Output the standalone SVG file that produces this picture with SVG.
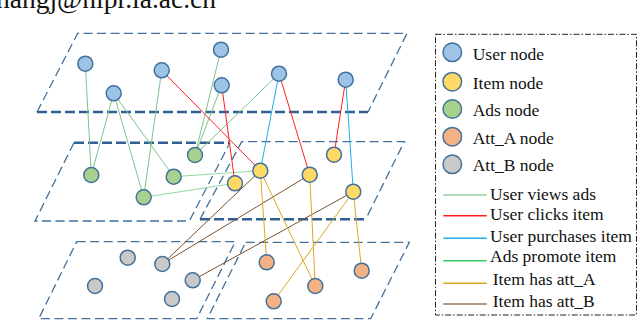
<svg xmlns="http://www.w3.org/2000/svg" width="640" height="321" viewBox="0 0 640 321">
<style>
.pl{fill:none;stroke:#41719c;stroke-width:1.3;stroke-dasharray:9 4.5}
.pk{fill:none;stroke:#2f5f94;stroke-width:2.6;stroke-dasharray:10 4}
.n{stroke:#41719c;stroke-width:1.5}
.u{fill:#9dc3e6}.i{fill:#ffd966}.a{fill:#a9d18e}.o{fill:#f4b183}.g{fill:#c9c9c9}
.e{fill:none;stroke-width:1}
.ev{stroke:#7cc48c}.ec{stroke:#ff2020}.ep{stroke:#1ab0ee}.ea{stroke:#8fdaa2}.eA{stroke:#dca820}.eB{stroke:#7a5230}
.t{font-family:"Liberation Serif","Times New Roman",serif;font-size:17.5px;fill:#111}
</style>
<text x="216" y="8" text-anchor="end" style="font-family:'Liberation Serif',serif;font-size:27.5px;fill:#111">hangj@nlpr.ia.ac.cn</text>
<g id="planes">
<path class="pl" d="M37,112 L77.7,33.3 L407,33.3 L368,112"/>
<path class="pk" d="M37,112 L368,112"/>
<path class="pl" d="M74,142.7 L35,221 L189.3,221 L230,142.7"/>
<path class="pk" d="M74,142.7 L230,142.7"/>
<path class="pl" d="M200,219.3 L241.7,141.7 L404.3,141.7 L365.7,219.3"/>
<path class="pk" d="M200,219.3 L365.7,219.3"/>
<path class="pl" d="M76.7,241.7 L235.3,241.7 L196.7,318.7 L38.7,318.7 Z"/>
<path class="pl" d="M245.7,242.3 L409.3,242.3 L370.7,318.7 L207.3,318.7 Z"/>
</g>
<g id="connectors" class="e">
<line class="ev" x1="85.3" y1="63.7" x2="91.3" y2="175"/>
<line class="ev" x1="113.7" y1="93.3" x2="91.3" y2="175"/>
<line class="ev" x1="113.7" y1="93.3" x2="143.7" y2="197.3"/>
<line class="ev" x1="113.7" y1="93.3" x2="173.7" y2="176.7"/>
<line class="ev" x1="161.7" y1="70.3" x2="143.7" y2="197.3"/>
<line class="ev" x1="221" y1="49.7" x2="195" y2="155"/>
<line class="ev" x1="221.7" y1="85.3" x2="195" y2="155"/>
<line class="ev" x1="279" y1="73.7" x2="195" y2="155"/>
<line class="ea" x1="173.7" y1="176.7" x2="260.3" y2="170.7"/>
<line class="ea" x1="143.7" y1="197.3" x2="235" y2="183.3"/>
<line class="ec" x1="161.7" y1="70.3" x2="260.3" y2="170.7"/>
<line class="ec" x1="221.7" y1="85.3" x2="235" y2="183.3"/>
<line class="ec" x1="279" y1="73.7" x2="309.7" y2="174.7"/>
<line class="ec" x1="345.7" y1="79.7" x2="334" y2="154.7"/>
<line class="ep" x1="279" y1="73.7" x2="260.3" y2="170.7"/>
<line class="ep" x1="345.7" y1="79.7" x2="353.3" y2="191.7"/>
<line class="eB" x1="260.3" y1="170.7" x2="162.3" y2="264"/>
<line class="eB" x1="309.7" y1="174.7" x2="162.3" y2="264"/>
<line class="eB" x1="353.3" y1="191.7" x2="192.7" y2="280.3"/>
<line class="eA" x1="260.3" y1="170.7" x2="266.7" y2="262.3"/>
<line class="eA" x1="260.3" y1="170.7" x2="315.3" y2="286"/>
<line class="eA" x1="309.7" y1="174.7" x2="315.3" y2="286"/>
<line class="eA" x1="353.3" y1="191.7" x2="273.7" y2="301.3"/>
<line class="eA" x1="353.3" y1="191.7" x2="361.7" y2="270.7"/>
</g>
<g id="user-nodes" class="n u">
<circle id="u1" cx="85.3" cy="63.7" r="7.5"/>
<circle id="u2" cx="113.7" cy="93.3" r="7.5"/>
<circle id="u3" cx="161.7" cy="70.3" r="7.5"/>
<circle id="u4" cx="221" cy="49.7" r="7.5"/>
<circle id="u5" cx="221.7" cy="85.3" r="7.5"/>
<circle id="u6" cx="279" cy="73.7" r="7.5"/>
<circle id="u7" cx="345.7" cy="79.7" r="7.5"/>
</g>
<g id="ads-nodes" class="n a">
<circle id="a1" cx="91.3" cy="175" r="7.5"/>
<circle id="a2" cx="143.7" cy="197.3" r="7.5"/>
<circle id="a3" cx="173.7" cy="176.7" r="7.5"/>
<circle id="a4" cx="195" cy="155" r="7.5"/>
</g>
<g id="item-nodes" class="n i">
<circle id="i1" cx="235" cy="183.3" r="7.5"/>
<circle id="i2" cx="260.3" cy="170.7" r="7.5"/>
<circle id="i3" cx="309.7" cy="174.7" r="7.5"/>
<circle id="i4" cx="334" cy="154.7" r="7.5"/>
<circle id="i5" cx="353.3" cy="191.7" r="7.5"/>
</g>
<g id="attb-nodes" class="n g">
<circle id="g1" cx="127.7" cy="257.7" r="7.5"/>
<circle id="g2" cx="162.3" cy="264" r="7.5"/>
<circle id="g3" cx="95" cy="286" r="7.5"/>
<circle id="g4" cx="192.7" cy="280.3" r="7.5"/>
<circle id="g5" cx="172" cy="299" r="7.5"/>
</g>
<g id="atta-nodes" class="n o">
<circle id="o1" cx="266.7" cy="262.3" r="7.5"/>
<circle id="o2" cx="361.7" cy="270.7" r="7.5"/>
<circle id="o3" cx="315.3" cy="286" r="7.5"/>
<circle id="o4" cx="273.7" cy="301.3" r="7.5"/>
</g>
<g id="legend">
<rect x="435.5" y="34.3" width="201" height="280.7" fill="none" stroke="#222" stroke-width="1" stroke-dasharray="6 2 1.5 2"/>
<circle class="n u" cx="452.3" cy="52.3" r="9.3"/>
<circle class="n i" cx="452.3" cy="81.7" r="9.3"/>
<circle class="n a" cx="452.3" cy="109" r="9.3"/>
<circle class="n o" cx="452.3" cy="136.7" r="9.3"/>
<circle class="n g" cx="452.3" cy="164.3" r="9.3"/>
<text class="t" x="472.7" y="59.5">User node</text>
<text class="t" x="472.7" y="88.5">Item node</text>
<text class="t" x="472.7" y="116">Ads node</text>
<text class="t" x="472.7" y="143.5">Att_A node</text>
<text class="t" x="472.7" y="171">Att_B node</text>
<line stroke="#8fcf9f" stroke-width="1.5" x1="443.3" y1="195" x2="486.7" y2="195"/>
<line stroke="#ff2020" stroke-width="1.5" x1="443.3" y1="215.7" x2="486.7" y2="215.7"/>
<line stroke="#1ab0ee" stroke-width="1.5" x1="443.3" y1="238.3" x2="486.7" y2="238.3"/>
<line stroke="#33cc66" stroke-width="1.5" x1="443.3" y1="260.7" x2="486.7" y2="260.7"/>
<line stroke="#dca820" stroke-width="1.5" x1="443.3" y1="283.3" x2="486.7" y2="283.3"/>
<line stroke="#9c7a5a" stroke-width="1.5" x1="443.3" y1="304" x2="486.7" y2="304"/>
<text class="t" x="490" y="199.5">User views ads</text>
<text class="t" x="490" y="220">User clicks item</text>
<text class="t" x="490" y="241.7">User purchases item</text>
<text class="t" x="490" y="262.3">Ads promote item</text>
<text class="t" x="492.7" y="285">Item has att_A</text>
<text class="t" x="492.7" y="306.7">Item has att_B</text>
</g>
</svg>
